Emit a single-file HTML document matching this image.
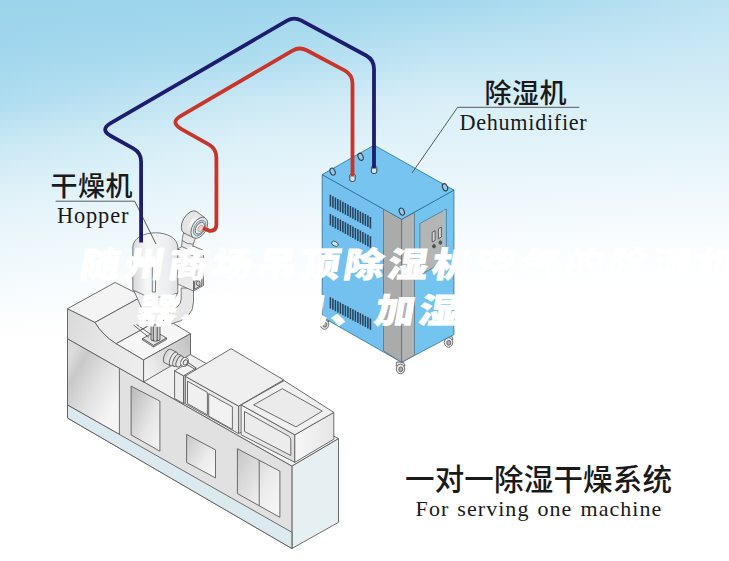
<!DOCTYPE html>
<html lang="zh-CN"><head><meta charset="utf-8"><title>随州商场吊顶除湿机</title>
<style>
html,body{margin:0;padding:0;background:#fff}
#wrap{position:relative;width:729px;height:561px;overflow:hidden}
.tl{position:absolute;margin:0;color:#fff;font-family:"Liberation Sans","Noto Sans CJK SC",sans-serif;font-weight:900;font-size:40px;line-height:40px;letter-spacing:4px;white-space:nowrap;-webkit-text-stroke:0.8px #fff;transform-origin:0 0;transform:scaleY(0.86) skewX(-8deg)}
.tl i{font-style:normal;display:inline-block;width:18px;overflow:hidden;vertical-align:top}
#t1{left:82.5px;top:247.5px}
#t2{left:140px;top:293.5px}
</style></head><body>
<div id="wrap">
<svg width="729" height="561" viewBox="0 0 729 561" style="position:absolute;left:0;top:0">
<defs>
<linearGradient id="bg0" x1="0" y1="0" x2="1" y2="0"><stop offset="0.000" stop-color="#9bd4ec"/><stop offset="0.329" stop-color="#9cd5ec"/><stop offset="0.604" stop-color="#a4d8ee"/><stop offset="1.000" stop-color="#bde3f2"/></linearGradient>
<linearGradient id="bg1" x1="0" y1="0" x2="1" y2="0"><stop offset="0.000" stop-color="#9cd5ec"/><stop offset="0.329" stop-color="#9fd6ed"/><stop offset="0.604" stop-color="#a9daef"/><stop offset="1.000" stop-color="#c0e4f3"/></linearGradient>
<linearGradient id="bg2" x1="0" y1="0" x2="1" y2="0"><stop offset="0.000" stop-color="#9dd5ec"/><stop offset="0.329" stop-color="#a1d7ed"/><stop offset="0.604" stop-color="#addcef"/><stop offset="1.000" stop-color="#c2e5f3"/></linearGradient>
<linearGradient id="bg3" x1="0" y1="0" x2="1" y2="0"><stop offset="0.000" stop-color="#9ed5ed"/><stop offset="0.329" stop-color="#a3d8ee"/><stop offset="0.604" stop-color="#b2def0"/><stop offset="1.000" stop-color="#c4e6f4"/></linearGradient>
<linearGradient id="bg4" x1="0" y1="0" x2="1" y2="0"><stop offset="0.000" stop-color="#9fd6ed"/><stop offset="0.329" stop-color="#a6d9ee"/><stop offset="0.604" stop-color="#b6e0f1"/><stop offset="1.000" stop-color="#c7e7f4"/></linearGradient>
<linearGradient id="bg5" x1="0" y1="0" x2="1" y2="0"><stop offset="0.000" stop-color="#a0d6ed"/><stop offset="0.329" stop-color="#a8daef"/><stop offset="0.604" stop-color="#bbe2f2"/><stop offset="1.000" stop-color="#c9e8f5"/></linearGradient>
<linearGradient id="bg6" x1="0" y1="0" x2="1" y2="0"><stop offset="0.000" stop-color="#a2d7ed"/><stop offset="0.329" stop-color="#abdbef"/><stop offset="0.604" stop-color="#bfe4f3"/><stop offset="1.000" stop-color="#cbe9f5"/></linearGradient>
<linearGradient id="bg7" x1="0" y1="0" x2="1" y2="0"><stop offset="0.000" stop-color="#a4d8ee"/><stop offset="0.329" stop-color="#addcef"/><stop offset="0.604" stop-color="#c3e5f4"/><stop offset="1.000" stop-color="#cdeaf6"/></linearGradient>
<linearGradient id="bg8" x1="0" y1="0" x2="1" y2="0"><stop offset="0.000" stop-color="#a6d9ee"/><stop offset="0.329" stop-color="#b3def0"/><stop offset="0.604" stop-color="#c7e7f4"/><stop offset="1.000" stop-color="#cfeaf6"/></linearGradient>
<linearGradient id="bg9" x1="0" y1="0" x2="1" y2="0"><stop offset="0.000" stop-color="#a8daee"/><stop offset="0.329" stop-color="#b8e1f2"/><stop offset="0.604" stop-color="#cce9f5"/><stop offset="1.000" stop-color="#d1ebf6"/></linearGradient>
<linearGradient id="bg10" x1="0" y1="0" x2="1" y2="0"><stop offset="0.000" stop-color="#aadaef"/><stop offset="0.329" stop-color="#bee3f3"/><stop offset="0.604" stop-color="#d0ebf6"/><stop offset="1.000" stop-color="#d3ecf7"/></linearGradient>
<linearGradient id="bg11" x1="0" y1="0" x2="1" y2="0"><stop offset="0.000" stop-color="#acdbef"/><stop offset="0.329" stop-color="#c3e5f4"/><stop offset="0.604" stop-color="#d4ecf7"/><stop offset="1.000" stop-color="#d5edf7"/></linearGradient>
<linearGradient id="bg12" x1="0" y1="0" x2="1" y2="0"><stop offset="0.000" stop-color="#aedcf0"/><stop offset="0.329" stop-color="#c9e8f5"/><stop offset="0.604" stop-color="#d8eef8"/><stop offset="1.000" stop-color="#d7eef7"/></linearGradient>
<linearGradient id="bg13" x1="0" y1="0" x2="1" y2="0"><stop offset="0.000" stop-color="#b3def1"/><stop offset="0.329" stop-color="#cde9f5"/><stop offset="0.604" stop-color="#daeff8"/><stop offset="1.000" stop-color="#d9eff8"/></linearGradient>
<linearGradient id="bg14" x1="0" y1="0" x2="1" y2="0"><stop offset="0.000" stop-color="#b8e0f1"/><stop offset="0.329" stop-color="#d0ebf6"/><stop offset="0.604" stop-color="#dcf0f8"/><stop offset="1.000" stop-color="#dbf0f8"/></linearGradient>
<linearGradient id="bg15" x1="0" y1="0" x2="1" y2="0"><stop offset="0.000" stop-color="#bde3f2"/><stop offset="0.329" stop-color="#d4edf7"/><stop offset="0.604" stop-color="#ddf1f9"/><stop offset="1.000" stop-color="#def1f9"/></linearGradient>
<linearGradient id="bg16" x1="0" y1="0" x2="1" y2="0"><stop offset="0.000" stop-color="#c2e5f3"/><stop offset="0.329" stop-color="#d8eef8"/><stop offset="0.604" stop-color="#dff1f9"/><stop offset="1.000" stop-color="#e0f2f9"/></linearGradient>
<linearGradient id="bg17" x1="0" y1="0" x2="1" y2="0"><stop offset="0.000" stop-color="#c7e7f4"/><stop offset="0.329" stop-color="#dbf0f8"/><stop offset="0.604" stop-color="#e1f2f9"/><stop offset="1.000" stop-color="#e2f3fa"/></linearGradient>
<linearGradient id="bg18" x1="0" y1="0" x2="1" y2="0"><stop offset="0.000" stop-color="#cbe9f5"/><stop offset="0.329" stop-color="#def1f9"/><stop offset="0.604" stop-color="#e3f3fa"/><stop offset="1.000" stop-color="#e4f4fa"/></linearGradient>
<linearGradient id="bg19" x1="0" y1="0" x2="1" y2="0"><stop offset="0.000" stop-color="#ceeaf6"/><stop offset="0.329" stop-color="#e0f2f9"/><stop offset="0.604" stop-color="#e4f4fa"/><stop offset="1.000" stop-color="#e6f4fa"/></linearGradient>
<linearGradient id="bg20" x1="0" y1="0" x2="1" y2="0"><stop offset="0.000" stop-color="#d2ecf6"/><stop offset="0.329" stop-color="#e2f3fa"/><stop offset="0.604" stop-color="#e6f4fa"/><stop offset="1.000" stop-color="#e8f5fb"/></linearGradient>
<linearGradient id="bg21" x1="0" y1="0" x2="1" y2="0"><stop offset="0.000" stop-color="#d6edf7"/><stop offset="0.329" stop-color="#e4f4fa"/><stop offset="0.604" stop-color="#e8f5fb"/><stop offset="1.000" stop-color="#eaf6fb"/></linearGradient>
<linearGradient id="bg22" x1="0" y1="0" x2="1" y2="0"><stop offset="0.000" stop-color="#d9eff8"/><stop offset="0.329" stop-color="#e6f4fa"/><stop offset="0.604" stop-color="#eaf6fb"/><stop offset="1.000" stop-color="#ecf7fb"/></linearGradient>
<linearGradient id="bg23" x1="0" y1="0" x2="1" y2="0"><stop offset="0.000" stop-color="#ddf0f8"/><stop offset="0.329" stop-color="#e8f5fb"/><stop offset="0.604" stop-color="#ebf7fb"/><stop offset="1.000" stop-color="#eef8fc"/></linearGradient>
<linearGradient id="bg24" x1="0" y1="0" x2="1" y2="0"><stop offset="0.000" stop-color="#e0f2f9"/><stop offset="0.329" stop-color="#eaf6fb"/><stop offset="0.604" stop-color="#edf7fc"/><stop offset="1.000" stop-color="#f0f9fc"/></linearGradient>
<linearGradient id="bg25" x1="0" y1="0" x2="1" y2="0"><stop offset="0.000" stop-color="#e3f3fa"/><stop offset="0.329" stop-color="#ecf7fb"/><stop offset="0.604" stop-color="#eff8fc"/><stop offset="1.000" stop-color="#f2f9fc"/></linearGradient>
<linearGradient id="bg26" x1="0" y1="0" x2="1" y2="0"><stop offset="0.000" stop-color="#e5f4fa"/><stop offset="0.329" stop-color="#eef8fc"/><stop offset="0.604" stop-color="#f1f9fc"/><stop offset="1.000" stop-color="#f3fafd"/></linearGradient>
<linearGradient id="bg27" x1="0" y1="0" x2="1" y2="0"><stop offset="0.000" stop-color="#e7f4fa"/><stop offset="0.329" stop-color="#f0f8fc"/><stop offset="0.604" stop-color="#f2fafd"/><stop offset="1.000" stop-color="#f5fbfd"/></linearGradient>
<linearGradient id="bg28" x1="0" y1="0" x2="1" y2="0"><stop offset="0.000" stop-color="#e8f5fb"/><stop offset="0.329" stop-color="#f2f9fc"/><stop offset="0.604" stop-color="#f4fafd"/><stop offset="1.000" stop-color="#f7fbfd"/></linearGradient>
<linearGradient id="bg29" x1="0" y1="0" x2="1" y2="0"><stop offset="0.000" stop-color="#eaf6fb"/><stop offset="0.329" stop-color="#f4fafd"/><stop offset="0.604" stop-color="#f6fbfd"/><stop offset="1.000" stop-color="#f8fcfe"/></linearGradient>
<linearGradient id="bg30" x1="0" y1="0" x2="1" y2="0"><stop offset="0.000" stop-color="#ecf7fb"/><stop offset="0.329" stop-color="#f6fbfd"/><stop offset="0.604" stop-color="#f8fcfe"/><stop offset="1.000" stop-color="#fafdfe"/></linearGradient>
<linearGradient id="bg31" x1="0" y1="0" x2="1" y2="0"><stop offset="0.000" stop-color="#eef8fc"/><stop offset="0.329" stop-color="#f7fcfe"/><stop offset="0.604" stop-color="#f9fdfe"/><stop offset="1.000" stop-color="#fbfdfe"/></linearGradient>
<linearGradient id="bg32" x1="0" y1="0" x2="1" y2="0"><stop offset="0.000" stop-color="#eff8fc"/><stop offset="0.329" stop-color="#f9fcfe"/><stop offset="0.604" stop-color="#fafdfe"/><stop offset="1.000" stop-color="#fcfefe"/></linearGradient>
<linearGradient id="bg33" x1="0" y1="0" x2="1" y2="0"><stop offset="0.000" stop-color="#f1f9fc"/><stop offset="0.329" stop-color="#fafdfe"/><stop offset="0.604" stop-color="#fcfefe"/><stop offset="1.000" stop-color="#fdfeff"/></linearGradient>
<linearGradient id="bg34" x1="0" y1="0" x2="1" y2="0"><stop offset="0.000" stop-color="#f3fafd"/><stop offset="0.329" stop-color="#fbfdfe"/><stop offset="0.604" stop-color="#fdfeff"/><stop offset="1.000" stop-color="#feffff"/></linearGradient>
<linearGradient id="bg35" x1="0" y1="0" x2="1" y2="0"><stop offset="0.000" stop-color="#f5fbfd"/><stop offset="0.329" stop-color="#fcfeff"/><stop offset="0.604" stop-color="#feffff"/><stop offset="1.000" stop-color="#ffffff"/></linearGradient>
<linearGradient id="bg36" x1="0" y1="0" x2="1" y2="0"><stop offset="0.000" stop-color="#f6fbfd"/><stop offset="0.329" stop-color="#fefeff"/><stop offset="0.604" stop-color="#ffffff"/><stop offset="1.000" stop-color="#ffffff"/></linearGradient>
<linearGradient id="bg37" x1="0" y1="0" x2="1" y2="0"><stop offset="0.000" stop-color="#f8fcfe"/><stop offset="0.329" stop-color="#ffffff"/><stop offset="0.604" stop-color="#ffffff"/><stop offset="1.000" stop-color="#ffffff"/></linearGradient>
<linearGradient id="bg38" x1="0" y1="0" x2="1" y2="0"><stop offset="0.000" stop-color="#f9fdfe"/><stop offset="0.329" stop-color="#ffffff"/><stop offset="0.604" stop-color="#ffffff"/><stop offset="1.000" stop-color="#ffffff"/></linearGradient>
<linearGradient id="bg39" x1="0" y1="0" x2="1" y2="0"><stop offset="0.000" stop-color="#fbfdfe"/><stop offset="0.329" stop-color="#ffffff"/><stop offset="0.604" stop-color="#ffffff"/><stop offset="1.000" stop-color="#ffffff"/></linearGradient>
<linearGradient id="bg40" x1="0" y1="0" x2="1" y2="0"><stop offset="0.000" stop-color="#fcfefe"/><stop offset="0.329" stop-color="#ffffff"/><stop offset="0.604" stop-color="#ffffff"/><stop offset="1.000" stop-color="#ffffff"/></linearGradient>
<linearGradient id="bg41" x1="0" y1="0" x2="1" y2="0"><stop offset="0.000" stop-color="#fefeff"/><stop offset="0.329" stop-color="#ffffff"/><stop offset="0.604" stop-color="#ffffff"/><stop offset="1.000" stop-color="#ffffff"/></linearGradient>
<linearGradient id="bg42" x1="0" y1="0" x2="1" y2="0"><stop offset="0.000" stop-color="#ffffff"/><stop offset="0.329" stop-color="#ffffff"/><stop offset="0.604" stop-color="#ffffff"/><stop offset="1.000" stop-color="#ffffff"/></linearGradient>

<linearGradient id="gPanelL" gradientUnits="userSpaceOnUse" x1="66" y1="365" x2="121" y2="395"><stop offset="0" stop-color="#dcdcdc"/><stop offset="0.2" stop-color="#c9c9c9"/><stop offset="0.6" stop-color="#e2e2e2"/><stop offset="1" stop-color="#f5f5f5"/></linearGradient>
<linearGradient id="gUpper" gradientUnits="userSpaceOnUse" x1="67" y1="320" x2="144" y2="345"><stop offset="0" stop-color="#dadada"/><stop offset="0.5" stop-color="#e6e6e6"/><stop offset="1" stop-color="#ededed"/></linearGradient>
<linearGradient id="gBaseR" gradientUnits="userSpaceOnUse" x1="143" y1="370" x2="190" y2="345"><stop offset="0" stop-color="#f3f3f3"/><stop offset="1" stop-color="#c4c4c4"/></linearGradient>
<linearGradient id="gWin" x1="0" y1="0" x2="1" y2="1"><stop offset="0" stop-color="#b9b9b9"/><stop offset="0.6" stop-color="#e6e6e6"/><stop offset="1" stop-color="#f6f6f6"/></linearGradient>
<linearGradient id="gWin2" x1="0" y1="0" x2="1" y2="1"><stop offset="0" stop-color="#c6c6c6"/><stop offset="0.6" stop-color="#ececec"/><stop offset="1" stop-color="#f8f8f8"/></linearGradient>
<linearGradient id="gBoxF" x1="0" y1="0" x2="1" y2="1"><stop offset="0" stop-color="#f4f4f4"/><stop offset="1" stop-color="#dcdcdc"/></linearGradient>
<linearGradient id="gBoxR" x1="0" y1="0" x2="1" y2="0"><stop offset="0" stop-color="#f7f7f7"/><stop offset="1" stop-color="#e6e6e6"/></linearGradient>
<linearGradient id="gHop" x1="0" y1="0" x2="1" y2="0"><stop offset="0" stop-color="#d6d8da"/><stop offset="0.3" stop-color="#f6f7f7"/><stop offset="0.75" stop-color="#eeeff0"/><stop offset="1" stop-color="#dfe1e2"/></linearGradient>
<radialGradient id="gBlow" cx="0.4" cy="0.4" r="0.7"><stop offset="0" stop-color="#f8f8f8"/><stop offset="1" stop-color="#d6d6d6"/></radialGradient>

</defs>
<rect width="729" height="561" fill="#fff"/>
<rect x="0" y="0" width="729" height="9" fill="url(#bg0)"/>
<rect x="0" y="8" width="729" height="9" fill="url(#bg1)"/>
<rect x="0" y="16" width="729" height="9" fill="url(#bg2)"/>
<rect x="0" y="24" width="729" height="9" fill="url(#bg3)"/>
<rect x="0" y="32" width="729" height="9" fill="url(#bg4)"/>
<rect x="0" y="40" width="729" height="9" fill="url(#bg5)"/>
<rect x="0" y="48" width="729" height="9" fill="url(#bg6)"/>
<rect x="0" y="56" width="729" height="9" fill="url(#bg7)"/>
<rect x="0" y="64" width="729" height="9" fill="url(#bg8)"/>
<rect x="0" y="72" width="729" height="9" fill="url(#bg9)"/>
<rect x="0" y="80" width="729" height="9" fill="url(#bg10)"/>
<rect x="0" y="88" width="729" height="9" fill="url(#bg11)"/>
<rect x="0" y="96" width="729" height="9" fill="url(#bg12)"/>
<rect x="0" y="104" width="729" height="9" fill="url(#bg13)"/>
<rect x="0" y="112" width="729" height="9" fill="url(#bg14)"/>
<rect x="0" y="120" width="729" height="9" fill="url(#bg15)"/>
<rect x="0" y="128" width="729" height="9" fill="url(#bg16)"/>
<rect x="0" y="136" width="729" height="9" fill="url(#bg17)"/>
<rect x="0" y="144" width="729" height="9" fill="url(#bg18)"/>
<rect x="0" y="152" width="729" height="9" fill="url(#bg19)"/>
<rect x="0" y="160" width="729" height="9" fill="url(#bg20)"/>
<rect x="0" y="168" width="729" height="9" fill="url(#bg21)"/>
<rect x="0" y="176" width="729" height="9" fill="url(#bg22)"/>
<rect x="0" y="184" width="729" height="9" fill="url(#bg23)"/>
<rect x="0" y="192" width="729" height="9" fill="url(#bg24)"/>
<rect x="0" y="200" width="729" height="9" fill="url(#bg25)"/>
<rect x="0" y="208" width="729" height="9" fill="url(#bg26)"/>
<rect x="0" y="216" width="729" height="9" fill="url(#bg27)"/>
<rect x="0" y="224" width="729" height="9" fill="url(#bg28)"/>
<rect x="0" y="232" width="729" height="9" fill="url(#bg29)"/>
<rect x="0" y="240" width="729" height="9" fill="url(#bg30)"/>
<rect x="0" y="248" width="729" height="9" fill="url(#bg31)"/>
<rect x="0" y="256" width="729" height="9" fill="url(#bg32)"/>
<rect x="0" y="264" width="729" height="9" fill="url(#bg33)"/>
<rect x="0" y="272" width="729" height="9" fill="url(#bg34)"/>
<rect x="0" y="280" width="729" height="9" fill="url(#bg35)"/>
<rect x="0" y="288" width="729" height="9" fill="url(#bg36)"/>
<rect x="0" y="296" width="729" height="9" fill="url(#bg37)"/>
<rect x="0" y="304" width="729" height="9" fill="url(#bg38)"/>
<rect x="0" y="312" width="729" height="9" fill="url(#bg39)"/>
<rect x="0" y="320" width="729" height="9" fill="url(#bg40)"/>
<rect x="0" y="328" width="729" height="9" fill="url(#bg41)"/>
<rect x="0" y="336" width="729" height="9" fill="url(#bg42)"/>
<g stroke="#5e5e5e" stroke-width="0.9" stroke-linejoin="round">
<polygon points="67.5,338.7 291.9,466.2 338.5,438.7 114.1,311.2" fill="#f0f0f0"/>
<polygon points="291.9,466.2 338.5,438.7 338.5,522.3 291.9,548.5" fill="#e6eff1"/>
<polygon points="67.5,338.7 291.9,466.2 291.9,548.5 67.5,418.0" fill="#e1e1e1"/>
<polygon points="67.5,338.7 119.4,368.2 119.4,434.4 67.5,405.0" fill="url(#gPanelL)"/>
<polygon points="67.5,405.0 291.9,532.3 291.9,548.5 67.5,418.0" fill="#dce9ef"/>
<polygon points="131.1,386.1 159.9,401.1 159.9,451.2 131.1,434.9" fill="url(#gWin)"/>
<polygon points="186.6,434.4 215.5,449.9 215.5,477.9 186.6,462.4" fill="url(#gWin2)"/>
<polygon points="237.4,448.7 279.9,471.2 279.9,517.3 237.4,493.6" fill="url(#gWin2)"/>
<path d="M259.2,460.2 V505.8" fill="none"/>
<polygon points="238.6,406.1 283.6,379.9 283.6,407.0 238.6,433.6" fill="#e8e8e8"/>
<polygon points="241.1,404.9 294.8,434.8 294.8,462.3 241.1,434.8" fill="url(#gBoxF)"/>
<polygon points="294.8,434.8 333.8,412.4 333.8,439.2 294.8,462.3" fill="url(#gBoxR)"/>
<polygon points="241.1,404.9 284.2,380.6 333.8,412.4 294.8,434.8" fill="#f0f0f0"/>
<polygon points="253.6,404.9 282.3,388.7 322.3,411.1 296.0,426.9" fill="#ebebeb"/>
<path d="M244.5,411.5 L288.5,436 Q290.8,437.3 290.8,440 V455.5 L244.5,431.5 Z" fill="#ececec"/>
<polygon points="185.0,376.2 238.6,406.1 238.6,433.6 185.0,403.6" fill="#e9e9e9"/>
<polygon points="187.5,381.2 207.4,392.4 207.4,414.9 187.5,403.6" fill="#f0f0f0"/>
<polygon points="208.7,393.7 232.4,406.9 232.4,429.4 208.7,416.1" fill="#f2f2f2"/>
<polygon points="185.0,376.2 231.1,348.7 283.6,379.9 238.6,406.1" fill="#efefef"/>
<polygon points="174.6,370.8 183.5,375.8 183.5,403.5 174.6,398.5" fill="#ededed"/>
<polygon points="183.5,375.8 185.2,374.8 185.2,402.8 183.5,403.5" fill="#dadada"/>
<polygon points="174.6,370.8 187.5,363.2 196.4,368.2 183.5,375.8" fill="#f4f4f4"/>
<path d="M67.5,308.7 L95,322.4 Q102.5,335 116.2,343.7 L143.6,359.9 V381.9 L67.5,338.7 Z" fill="url(#gUpper)"/>
<polygon points="67.5,308.7 115.0,282.5 142.5,296.2 95.0,322.4" fill="#f4f4f4"/>
<path d="M95,322.4 Q102.5,335 116.2,343.7 L163.7,317.5 Q150,308.8 142.5,296.2 Z" fill="#ededed"/>
<polygon points="116.2,343.7 163.7,317.5 190.5,333.7 143.6,359.9" fill="#f6f6f6"/>
<polygon points="143.6,359.9 190.5,333.7 190.5,354.5 143.6,381.9" fill="url(#gBaseR)"/>
<g fill="#e3e3e3">
<path d="M187,361.6 L195.5,367.6 L195.5,369.6 L187,364.6 Z" fill="#ddd"/>
<ellipse cx="167.6" cy="356" rx="3.3" ry="7.4" transform="rotate(25 167.6 356)" fill="#d9d9d9"/>
<path d="M170.7,349.3 L176.7,352.3 L170.5,365.7 L164.5,362.7 Z" stroke="none"/>
<path d="M170.7,349.3 L176.7,352.3 M170.5,365.7 L164.5,362.7" fill="none"/>
<ellipse cx="173.6" cy="359" rx="3.3" ry="7.4" transform="rotate(25 173.6 359)" fill="#e9e9e9"/>
<ellipse cx="176.6" cy="360.3" rx="3" ry="6.6" transform="rotate(25 176.6 360.3)" fill="#dcdcdc"/>
<ellipse cx="179.6" cy="361.4" rx="2.8" ry="6" transform="rotate(25 179.6 361.4)" fill="#e6e6e6"/>
<ellipse cx="184.6" cy="362" rx="3.7" ry="4.6" transform="rotate(25 184.6 362)" fill="#fafafa"/>
<ellipse cx="185.4" cy="362.4" rx="2" ry="2.7" transform="rotate(25 185.4 362.4)" fill="#eee"/>
</g>
</g>
<g stroke="#5e5e5e" stroke-width="0.8" stroke-linejoin="round">
<path d="M181.2,288 V299 Q181,307.5 169,311 L171,324 Q193.5,319 193.5,302 V288 Z" fill="#e7e7e7"/>
<polygon points="177.5,249.0 193.5,256.0 193.5,291.0 177.5,284.0" fill="#ebebeb"/>
<polygon points="193.5,256.0 203.5,250.5 203.5,285.5 193.5,291.0" fill="#d6d6d6"/>
<polygon points="177.5,249.0 187.5,243.5 203.5,250.5 193.5,256.0" fill="#f4f4f4"/>
<polygon points="194.6,281.5 201.8,277.5 201.8,285.2 194.6,289.2" fill="#eaeaea" stroke="#444"/>
<ellipse cx="198.2" cy="283.4" rx="1.9" ry="2.5" fill="#ccc" stroke="#444"/>
<path d="M183.8,231.5 Q182,238 181.6,246.5 L192.6,251 Q192.4,243.5 195.5,238.2 Z" fill="#e9e9e9"/>
<path d="M182.2,240.5 Q187,244.5 192.8,244.2" fill="none"/>
<ellipse cx="190.3" cy="222.3" rx="7.5" ry="12.5" transform="rotate(30 190.3 222.3)" fill="#e4e4e4"/>
<polygon points="196.55,211.5 205.05,217.84 193.55,237.76 184.05,233.1" fill="url(#gBlow)" stroke="none"/>
<path d="M196.55,211.5 L205.05,217.84 M193.55,237.76 L184.05,233.1" fill="none"/>
<ellipse cx="199.3" cy="227.8" rx="7" ry="11.5" transform="rotate(30 199.3 227.8)" fill="#e9e9e9"/>
<ellipse cx="199.6" cy="228" rx="5.2" ry="8.6" transform="rotate(30 199.6 228)" fill="#c6d8e3" stroke="#6d8696"/>
<ellipse cx="199.9" cy="228.2" rx="3.9" ry="6.4" transform="rotate(30 199.9 228.2)" fill="#ebebeb"/>
<ellipse cx="200.6" cy="228.4" rx="2.2" ry="3.5" transform="rotate(30 200.6 228.4)" fill="#ecd3d1" stroke="#b98"/>
<path d="M133.2,289 L149,325 H161.2 L177.6,293 Z" fill="#eeeeef"/>
<path d="M133,289 Q155,301 177.6,292" fill="none"/>
<path d="M132.8,290 V247.5 C132.8,238 144,232.8 155.7,232.8 C167,232.8 177.8,238 177.8,247.5 V293 Q155,303 132.8,290 Z" fill="url(#gHop)"/>
<path d="M152.3,262 V292 M155.5,263 V292 M152.3,292 H155.5" fill="none"/>
<polygon points="142.5,338.5 155.5,331.5 166.5,338.0 153.5,345.5" fill="#e4e4e4" stroke="#4a4a4a"/>
<polygon points="142.5,338.5 153.5,345.5 153.5,347.0 142.5,340.0" fill="#ccc"/>
<polygon points="166.5,338.0 153.5,345.5 153.5,347.0 166.5,339.5" fill="#bbb"/>
<path d="M151,325 V340 Q155.5,342.6 160,340 V325 Z" fill="#cfcfcf" stroke="#444"/>
<path d="M153.3,325 V341 M157.2,325 V341.2" fill="none" stroke="#333"/>
<path d="M133.5,325 L149,337.5 M136.5,324.5 L151,334.5" fill="none" stroke="#444"/>
</g>
<g stroke="#2a6f9c" stroke-width="0.8" stroke-linejoin="round">
<g stroke="#555"><path d="M320.5,317.5 h7 l1.5,4 h-9 z" fill="#ddd"/><ellipse cx="324.5" cy="324.5" rx="4.2" ry="4.8" fill="#e9e9e9"/><ellipse cx="324.8" cy="324.8" rx="2" ry="2.4" fill="#b0b0b0"/></g>
<g stroke="#555"><path d="M444.5,335.5 h7 l1.5,4 h-9 z" fill="#ddd"/><ellipse cx="448.5" cy="342.5" rx="4.2" ry="4.8" fill="#e9e9e9"/><ellipse cx="448.8" cy="342.8" rx="2" ry="2.4" fill="#b0b0b0"/></g>
<g stroke="#555"><path d="M396.5,362 h7 l1.5,4 h-9 z" fill="#ddd"/><ellipse cx="400.5" cy="369" rx="4.2" ry="4.8" fill="#e9e9e9"/><ellipse cx="400.8" cy="369.3" rx="2" ry="2.4" fill="#b0b0b0"/></g>
<polygon points="322.2,174.6 401.6,219.3 401.6,362.3 322.2,317.1" fill="#74c1ef"/>
<polygon points="383.5,208.8 401.6,219.3 401.6,362.3 383.5,350.9" fill="#aaabab" stroke="#5d7484"/>
<polygon points="401.6,219.3 453.9,190.1 453.9,334.6 401.6,362.3" fill="#74c4f0"/>
<polygon points="401.6,219.3 414.5,212.5 414.5,355.2 401.6,362.3" fill="#b2b3b3" stroke="#5d7484"/>
<polygon points="419.9,223.5 446.4,209.0 446.4,260.5 419.9,275.0" fill="#b4b5b5" stroke="#4f7892"/>
<path d="M444,210.5 V259.5" stroke="#8cc6ea" stroke-width="1.6" fill="none"/>
<g stroke="#444" fill="#d9d9d9"><path d="M432.2,232.3 l2.9,-1.6 v9.7 l-2.9,1.6 z"/><path d="M438.4,228.8 l3,-1.7 v9.9 l-3,1.7 z"/><ellipse cx="434" cy="246.3" rx="1.4" ry="1.7" fill="#555"/><ellipse cx="440.4" cy="242.6" rx="1.4" ry="1.7" fill="#555"/></g>
<polygon points="322.2,174.6 374.1,145.2 453.9,190.1 401.6,219.3" fill="#76c4ef"/>
<path d="M330.4,194.8v11.6 M332.9,196.2v11.6 M335.4,197.6v11.6 M337.9,198.9v11.6 M340.4,200.3v11.6 M342.9,201.7v11.6 M345.4,203.1v11.6 M347.9,204.5v11.6 M350.4,205.9v11.6 M352.9,207.2v11.6 M355.4,208.6v11.6 M357.9,210.0v11.6 M360.4,211.4v11.6 M362.9,212.8v11.6 M365.4,214.1v11.6 M367.9,215.5v11.6 M370.4,216.9v11.6" stroke="#27445e" stroke-width="1.6" fill="none"/>
<path d="M330.4,214.0v11.6 M332.9,215.4v11.6 M335.4,216.8v11.6 M337.9,218.2v11.6 M340.4,219.6v11.6 M342.9,220.9v11.6 M345.4,222.3v11.6 M347.9,223.7v11.6 M350.4,225.1v11.6 M352.9,226.5v11.6 M355.4,227.9v11.6 M357.9,229.3v11.6 M360.4,230.6v11.6 M362.9,232.0v11.6 M365.4,233.4v11.6 M367.9,234.8v11.6 M370.4,236.2v11.6" stroke="#27445e" stroke-width="1.6" fill="none"/>
<path d="M330.4,297.3v11.2 M332.9,298.6v11.2 M335.4,300.0v11.2 M337.9,301.3v11.2 M340.4,302.6v11.2 M342.9,304.0v11.2 M345.4,305.3v11.2 M347.9,306.6v11.2 M350.4,308.0v11.2 M352.9,309.3v11.2 M355.4,310.6v11.2 M357.9,311.9v11.2 M360.4,313.3v11.2 M362.9,314.6v11.2 M365.4,315.9v11.2 M367.9,317.3v11.2 M370.4,318.6v11.2" stroke="#27445e" stroke-width="1.6" fill="none"/>
<ellipse cx="335" cy="243.8" rx="3.6" ry="2.2" transform="rotate(28 335 243.8)" fill="#cfe6f5" stroke="#444"/>
<ellipse cx="332.6" cy="171.6" rx="2.4" ry="3.7" transform="rotate(-22 332.6 171.6)" fill="#8ccbf1" stroke="#3b3b3b" stroke-width="1.1"/>
<ellipse cx="360.6" cy="156.8" rx="2.4" ry="3.7" transform="rotate(-22 360.6 156.8)" fill="#8ccbf1" stroke="#3b3b3b" stroke-width="1.1"/>
<ellipse cx="445" cy="187.3" rx="2.4" ry="3.7" transform="rotate(-22 445 187.3)" fill="#8ccbf1" stroke="#3b3b3b" stroke-width="1.1"/>
<ellipse cx="401.8" cy="211.6" rx="2.4" ry="3.7" transform="rotate(-22 401.8 211.6)" fill="#8ccbf1" stroke="#3b3b3b" stroke-width="1.1"/>
<path d="M349.8,175.4 v4.6 a2.7,1.5 0 0 0 5.4,0 v-4.6 a2.7,1.5 0 0 0 -5.4,0 z" fill="#cfe6f6" stroke="#333" stroke-width="0.9"/>
<path d="M371.40000000000003,167.4 v4.6 a2.7,1.5 0 0 0 5.4,0 v-4.6 a2.7,1.5 0 0 0 -5.4,0 z" fill="#cfe6f6" stroke="#333" stroke-width="0.9"/>
</g>
<g fill="none" stroke="#4a4a4a" stroke-width="0.9">
<path d="M55.6,201.2 H134.7 L156,244"/>
<path d="M579.4,107.3 H457.6 L412,173"/>
</g>
<path d="M141.1,242.5 L141.1,161.8 Q141.1,152.8 133.2,148.4 L110.9,136.0 Q99.5,129.7 110.7,123.2 L287.1,20.6 Q294.0,16.6 301.0,20.4 L366.1,55.5 Q374.0,59.8 374.0,68.8 L374.0,168.5" fill="none" stroke="#1d1c6e" stroke-width="3.8" stroke-linejoin="round"/>
<path d="M203.0,228.3 L208.6,230.4 Q209.5,230.8 210.5,230.8 L210.4,230.8 Q216.4,230.8 216.4,224.8 L216.4,157.8 Q216.4,148.8 208.6,144.4 L181.0,128.8 Q169.7,122.4 180.9,115.8 L292.6,50.6 Q299.5,46.6 306.6,50.3 L344.5,70.4 Q352.5,74.6 352.5,83.6 L352.5,176.5" fill="none" stroke="#c9352b" stroke-width="3.8" stroke-linejoin="round"/>
<g fill="#1a1a1a">
<text x="50.5" y="196.3" font-family="'Liberation Sans','Noto Sans CJK SC',sans-serif" font-size="27" font-weight="500" textLength="82" lengthAdjust="spacing">干燥机</text>
<text x="57" y="223.4" font-family="'Liberation Serif',serif" font-size="22.4" letter-spacing="0.85">Hopper</text>
<text x="484.5" y="103.3" font-family="'Liberation Sans','Noto Sans CJK SC',sans-serif" font-size="27" font-weight="500" textLength="82" lengthAdjust="spacing">除湿机</text>
<text x="459.5" y="129.7" font-family="'Liberation Serif',serif" font-size="22.2" letter-spacing="0.7">Dehumidifier</text>
<text x="405" y="489.5" font-family="'Liberation Sans','Noto Sans CJK SC',sans-serif" font-size="29.5" font-weight="500" textLength="267" lengthAdjust="spacing">一对一除湿干燥系统</text>
<text x="415.6" y="515.8" font-family="'Liberation Serif',serif" font-size="22" letter-spacing="1.05" word-spacing="1.5">For serving one machine</text>
</g>
</svg>
<h1 class="tl" id="t1">随州商场吊顶除湿机空气的除湿机</h1>
<h1 class="tl" id="t2">器<i>、</i>抽湿机、加湿器的区别</h1>
</div>
</body></html>
